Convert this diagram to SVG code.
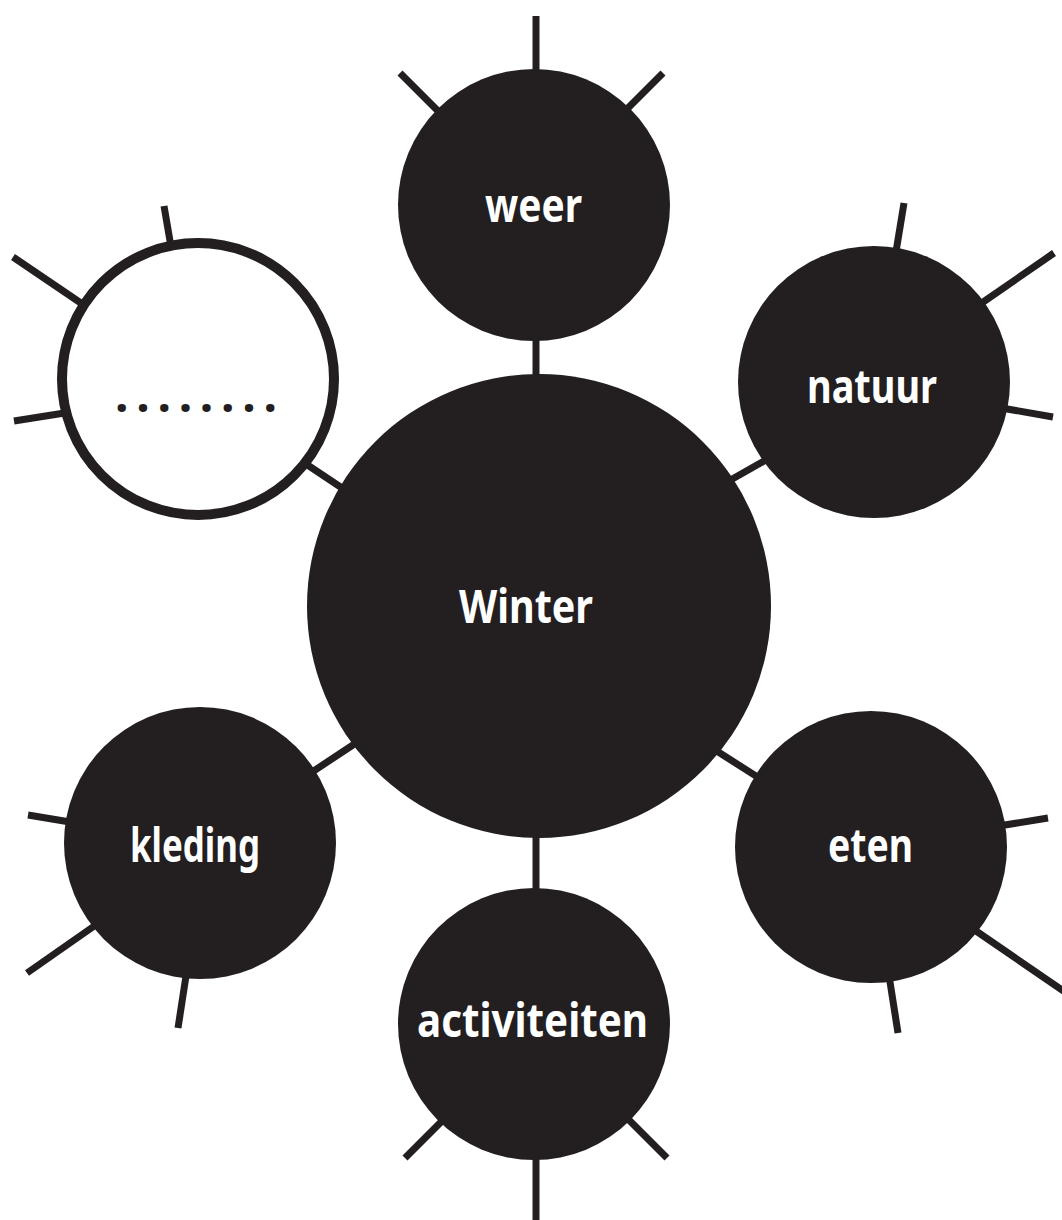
<svg xmlns="http://www.w3.org/2000/svg" width="1062" height="1220" viewBox="0 0 1062 1220">
<style>
.ln{stroke:#231f20;stroke-width:7;stroke-linecap:butt;fill:none}
.dk{fill:#231f20}
.lbl{fill:#ffffff;font-family:"Noto Sans","DejaVu Sans",sans-serif;font-weight:700;font-size:46px;text-anchor:middle}
</style>
<rect width="1062" height="1220" fill="#ffffff"/>
<g id="connectors">
<line class="ln" x1="536" y1="300" x2="536" y2="400"/>
<line class="ln" x1="536" y1="820" x2="536" y2="900"/>
<line class="ln" x1="720" y1="486" x2="780" y2="452"/>
<line class="ln" x1="712" y1="748" x2="770" y2="785"/>
<line class="ln" x1="300" y1="780" x2="362" y2="739"/>
<line class="ln" x1="300" y1="460" x2="360" y2="500"/>
<line class="ln" x1="536" y1="16" x2="536" y2="100"/>
<line class="ln" x1="400" y1="73" x2="460" y2="133"/>
<line class="ln" x1="663" y1="73" x2="603" y2="133"/>
<line class="ln" x1="536" y1="1220" x2="536" y2="1100"/>
<line class="ln" x1="405" y1="1158" x2="460" y2="1103"/>
<line class="ln" x1="667" y1="1158" x2="612" y2="1103"/>
<line class="ln" x1="904" y1="203" x2="893" y2="270"/>
<line class="ln" x1="1054" y1="253" x2="960" y2="318"/>
<line class="ln" x1="1053" y1="417" x2="990" y2="406"/>
<line class="ln" x1="28" y1="815" x2="100" y2="827"/>
<line class="ln" x1="27" y1="973" x2="110" y2="915"/>
<line class="ln" x1="178" y1="1028" x2="190" y2="950"/>
<line class="ln" x1="1048" y1="818" x2="980" y2="829"/>
<line class="ln" x1="1075" y1="999" x2="960" y2="920"/>
<line class="ln" x1="898" y1="1033" x2="885" y2="950"/>
<line class="ln" x1="164" y1="206" x2="175" y2="270"/>
<line class="ln" x1="13" y1="257" x2="100" y2="316"/>
<line class="ln" x1="14" y1="421" x2="90" y2="409"/>
</g>
<g id="node-winter">
<circle class="dk" cx="539" cy="606" r="232"/>
<text class="lbl" x="526" y="623" textLength="134" lengthAdjust="spacingAndGlyphs">Winter</text>
</g>
<g id="node-weer">
<circle class="dk" cx="534" cy="205" r="136"/>
<text class="lbl" x="533.5" y="222" textLength="97" lengthAdjust="spacingAndGlyphs">weer</text>
</g>
<g id="node-natuur">
<circle class="dk" cx="874" cy="382" r="136"/>
<text class="lbl" x="872" y="403" textLength="130" lengthAdjust="spacingAndGlyphs">natuur</text>
</g>
<g id="node-eten">
<circle class="dk" cx="871" cy="847" r="136"/>
<text class="lbl" x="870.5" y="862" textLength="85" lengthAdjust="spacingAndGlyphs">eten</text>
</g>
<g id="node-activiteiten">
<circle class="dk" cx="534" cy="1024" r="136"/>
<text class="lbl" x="532.5" y="1037" textLength="231" lengthAdjust="spacingAndGlyphs">activiteiten</text>
</g>
<g id="node-kleding">
<circle class="dk" cx="200" cy="843" r="136"/>
<text class="lbl" x="195" y="862" textLength="130" lengthAdjust="spacingAndGlyphs">kleding</text>
</g>
<g id="node-empty">
<circle cx="198" cy="379" r="136" fill="#ffffff" stroke="#231f20" stroke-width="10"/>
<text x="115" y="412" fill="#231f20" font-family="Noto Sans, DejaVu Sans, sans-serif" font-weight="700" font-size="48" textLength="162" lengthAdjust="spacing">........</text>
</g>
</svg>
